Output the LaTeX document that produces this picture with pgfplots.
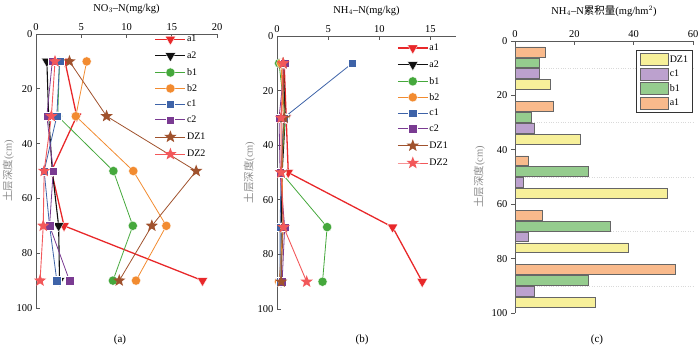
\documentclass[border=0pt]{standalone}
\usepackage{pgfplots}
\pgfplotsset{compat=1.18}
\usetikzlibrary{plotmarks}
\usepackage{fontspec}
\setmainfont{Liberation Serif}
\newfontfamily\cjk{Noto Sans CJK SC}
\definecolor{ca1}{HTML}{E8282A}
\definecolor{ca2}{HTML}{111111}
\definecolor{cb1}{HTML}{45A83C}
\definecolor{cb2}{HTML}{F28B30}
\definecolor{cc1}{HTML}{3E63A8}
\definecolor{cc2}{HTML}{7A3B92}
\definecolor{cdz1}{HTML}{A0522D}
\definecolor{cdz2}{HTML}{F2585A}
\definecolor{ba1}{HTML}{F9BA8C}
\definecolor{bb1}{HTML}{95CC8E}
\definecolor{bc1}{HTML}{BCA1CE}
\definecolor{bdz1}{HTML}{F7F09A}
\pgfdeclareplotmark{fstar}{%
  \pgfpathmoveto{\pgfqpointpolar{90}{\pgfplotmarksize}}%
  \pgfpathlineto{\pgfqpointpolar{126}{0.42\pgfplotmarksize}}%
  \pgfpathlineto{\pgfqpointpolar{162}{\pgfplotmarksize}}%
  \pgfpathlineto{\pgfqpointpolar{198}{0.42\pgfplotmarksize}}%
  \pgfpathlineto{\pgfqpointpolar{234}{\pgfplotmarksize}}%
  \pgfpathlineto{\pgfqpointpolar{270}{0.42\pgfplotmarksize}}%
  \pgfpathlineto{\pgfqpointpolar{306}{\pgfplotmarksize}}%
  \pgfpathlineto{\pgfqpointpolar{342}{0.42\pgfplotmarksize}}%
  \pgfpathlineto{\pgfqpointpolar{18}{\pgfplotmarksize}}%
  \pgfpathlineto{\pgfqpointpolar{54}{0.42\pgfplotmarksize}}%
  \pgfpathclose
  \pgfusepathqfill}
\pgfplotsset{
  base/.style={scale only axis, font=\fontsize{10.5}{12}\selectfont,
    /pgf/number format/assume math mode=true,
    axis x line=top, axis y line=left, clip=false,
    tick align=inside, major tick length=4pt,
    axis line style={draw=black!65, line width=0.8pt, -},
    x axis line style={-}, y axis line style={-},
    major tick style={draw=black!65, line width=0.8pt},
    y dir=reverse, ymin=0, ymax=100, ytick={0,20,...,100},
    xlabel shift=3pt,
    ylabel={{\cjk 土层深度}(cm)}, ylabel shift=-4pt,
    ylabel style={text=black!45, font=\fontsize{10.5}{12}\selectfont},
  },
  linelegend/.style={
    legend image code/.code={\draw[mark repeat=2,mark phase=2,##1] plot coordinates {(0pt,0pt) (15pt,0pt) (30pt,0pt)};},
    legend style={draw=none, fill=none, font=\fontsize{10}{11}\selectfont,
      row sep=5.5pt, nodes={inner sep=1pt}, inner sep=0pt},
    legend cell align=left,
  },
  sa1/.style={color=ca1, line width=1.3pt, mark=triangle*, mark size=6pt, mark options={rotate=180, fill=ca1, draw=white, line width=0.3pt}},
  sa2/.style={color=ca2, line width=1.1pt, mark=triangle*, mark size=6pt, mark options={rotate=180, fill=ca2, draw=white, line width=0.3pt}},
  sb1/.style={color=cb1, line width=0.8pt, mark=*, mark size=4.6pt, mark options={fill=cb1, draw=white, line width=0.3pt}},
  sb2/.style={color=cb2, line width=0.8pt, mark=*, mark size=4.6pt, mark options={fill=cb2, draw=white, line width=0.3pt}},
  sc1/.style={color=cc1, line width=0.8pt, mark=square*, mark size=4.2pt, mark options={fill=cc1, draw=white, line width=0.3pt}},
  sc2/.style={color=cc2, line width=0.8pt, mark=square*, mark size=4.2pt, mark options={fill=cc2, draw=white, line width=0.3pt}},
  sdz1/.style={color=cdz1, line width=0.8pt, mark=fstar, mark size=6.5pt, mark options={fill=cdz1}},
  sdz2/.style={color=cdz2, line width=0.9pt, mark=fstar, mark size=6.5pt, mark options={fill=cdz2}},
}
\begin{document}
\begin{tikzpicture}
\useasboundingbox (0pt,0pt) rectangle (700pt,348pt);
% ---------------- (a)
\begin{axis}[base, linelegend, at={(126.5pt,177pt)}, anchor=center,
  width=181pt, height=274pt, xmin=0, xmax=20, xtick={0,5,...,20},
  xlabel={NO$_3$–N(mg/kg)},
  legend style={at={(0.655,1.0)}, anchor=north west}]
\addplot[sa1] coordinates {(3.2,10)(4.5,30)(1.7,50)(3.1,70)(18.4,90)};
\addplot[sa2] coordinates {(1.2,10)(1.4,30)(1.8,50)(2.5,70)(2.6,90)};
\addplot[sb1] coordinates {(2.6,10)(2.4,30)(8.55,50)(10.7,70)(8.5,90)};
\addplot[sb2] coordinates {(5.6,10)(4.4,30)(10.75,50)(14.4,70)(11.05,90)};
\addplot[sc1] coordinates {(2.6,10)(2.3,30)(0.9,50)(1.5,70)(2.3,90)};
\addplot[sc2] coordinates {(1.8,10)(1.2,30)(1.9,50)(1.5,70)(3.7,90)};
\addplot[sdz1] coordinates {(3.7,10)(7.8,30)(17.7,50)(12.8,70)(9.2,90)};
\addplot[sdz2] coordinates {(2.1,10)(1.7,30)(0.9,50)(0.8,70)(0.45,90)};
\legend{a1,a2,b1,b2,c1,c2,DZ1,DZ2}
\end{axis}
% ---------------- (b)
\begin{axis}[base, linelegend, at={(366.5pt,175.5pt)}, anchor=center,
  width=179pt, height=273pt, xmin=0, xmax=17.5, xtick={0,5,10,15},
  xlabel={NH$_4$–N(mg/kg)},
  legend style={at={(0.67,0.975)}, anchor=north west}]
\addplot[sa1] coordinates {(0.7,10)(0.9,30)(1.1,50)(11.3,70)(14.2,90)};
\addplot[sa2] coordinates {(0.6,10)(0.8,30)(0.5,50)(0.4,70)(0.4,90)};
\addplot[sb1] coordinates {(0.2,10)(0.8,30)(0.4,50)(4.9,70)(4.45,90)};
\addplot[sb2] coordinates {(0.4,10)(0.6,30)(0.5,50)(0.6,70)(0.2,90)};
\addplot[sc1] coordinates {(7.35,10)(0.65,30)(0.4,50)(0.3,70)(0.3,90)};
\addplot[sc2] coordinates {(0.75,10)(0.2,30)(0.3,50)(0.75,70)(0.5,90)};
\addplot[sdz1] coordinates {(0.6,10)(0.7,30)(0.4,50)(0.6,70)(0.4,90)};
\addplot[sdz2] coordinates {(0.6,10)(0.4,30)(0.4,50)(0.65,70)(2.9,90)};
\legend{a1,a2,b1,b2,c1,c2,DZ1,DZ2}
\end{axis}
% ---------------- (c)
\begin{axis}[base, at={(604pt,171pt)}, anchor=center,
  width=178pt, height=272pt, xmin=0, xmax=60, xtick={0,20,40,60},
  xlabel={NH$_4$–N{\cjk 累积量}(mg/hm$^2$)}, xlabel shift=7pt,
  xbar, bar width=3.6, bar shift=0pt,
  extra y ticks={10,30,50,70,90}, extra y tick labels={},
  extra y tick style={grid=major, major grid style={black!15, dotted}, major tick length=0pt},
  reverse legend,
  legend image code/.code={\draw[#1] (0pt,-6pt) rectangle (28pt,6pt);},
  legend style={at={(1,0.967)}, anchor=north east, draw=black!80, line width=0.8pt,
    fill=white, font=\fontsize{10}{12}\selectfont, row sep=2pt, inner sep=3pt,
    nodes={inner sep=1.5pt}},
  legend cell align=left]
\addplot[fill=ba1, draw=black!60, line width=0.5pt] coordinates {(10.1,4)(12.9,24)(4.5,44)(9.3,64)(54.0,84)};
\addplot[fill=bb1, draw=black!60, line width=0.5pt] coordinates {(8.2,8)(5.6,28)(24.7,48)(32.2,68)(24.7,88)};
\addplot[fill=bc1, draw=black!60, line width=0.5pt] coordinates {(8.2,12)(6.5,32)(2.8,52)(4.5,72)(6.5,92)};
\addplot[fill=bdz1, draw=black!60, line width=0.5pt] coordinates {(11.8,16)(22.1,36)(51.2,56)(38.1,76)(27.0,96)};
\legend{a1,b1,c1,DZ1}
\end{axis}
\node[font=\fontsize{11}{13}\selectfont] at (120pt,8pt) {(a)};
\node[font=\fontsize{11}{13}\selectfont] at (362pt,8pt) {(b)};
\node[font=\fontsize{11}{13}\selectfont] at (597pt,8pt) {(c)};
\end{tikzpicture}
\end{document}
